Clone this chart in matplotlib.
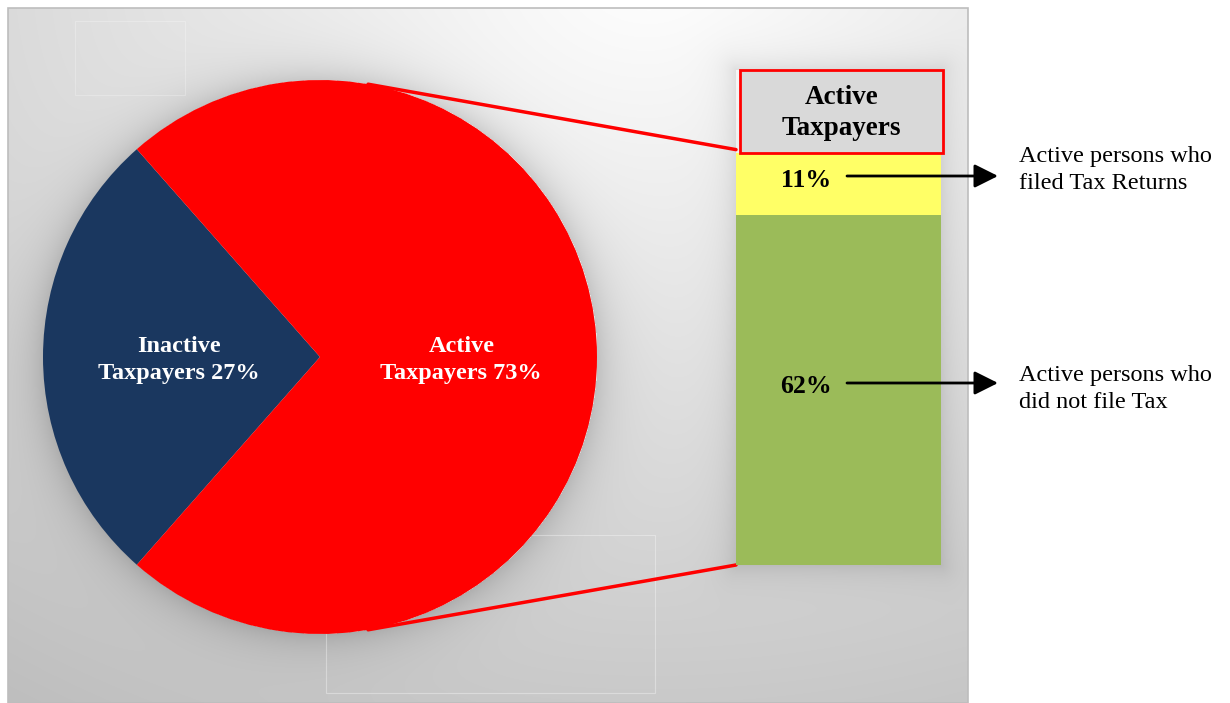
import numpy as np
import matplotlib
matplotlib.use('Agg')
import matplotlib.pyplot as plt
from matplotlib.patches import Rectangle, ConnectionPatch

plt.rcParams['font.family'] = ['Liberation Serif', 'DejaVu Serif']

# ---- data ----
pie_labels = ['Inactive\nTaxpayers', 'Active\nTaxpayers']
pie_values = [27, 73]
pie_colors = ['#1a375f', '#ff0000']

bar_values = [62, 11]                      # stacked bottom -> top
bar_colors = ['#9bbb59', '#ffff66']
bar_notes = ['Active persons who\ndid not file Tax',
             'Active persons who\nfiled Tax Returns']
bar_title = 'Active\nTaxpayers'

W, H = 1230, 703
fig = plt.figure(figsize=(W / 100, H / 100), dpi=100)
fig.patch.set_facecolor('white')

# ---- background panel with soft gradient and shadows ----
bg = fig.add_axes([0, 0, 1, 1], zorder=0)
bg.set_xlim(0, W)
bg.set_ylim(H, 0)
bg.axis('off')

x0, x1, y0, y1 = 8, 968, 8, 703
xx, yy = np.meshgrid(np.arange(x0, x1) + 0.5, np.arange(y0, y1) + 0.5)
d = np.hypot((xx - 650) / 1.3, yy + 30)
v = 1 - 0.26 * np.clip(d / 900, 0, 1.2)

# shadow around the pie
cx, cy, R = 320.5, 357, 277
dp = np.hypot(xx - cx, yy - cy) - R
v -= np.where(dp > 0, 0.13 * np.exp(-np.clip(dp, 0, None) / 20), 0)

# shadow around the stacked column
rx0, rx1, ry0, ry1 = 736, 941, 70, 565
ddx = np.maximum(np.maximum(rx0 - xx, xx - rx1), 0)
ddy = np.maximum(np.maximum(ry0 - yy, yy - ry1), 0)
dr = np.hypot(ddx, ddy)
v -= np.where(dr > 0, 0.09 * np.exp(-dr / 14), 0)

v = np.clip(v, 0, 1)
bg.imshow(np.dstack([v, v, v]), extent=(x0, x1, y1, y0),
          interpolation='bilinear', aspect='auto')
bg.add_patch(Rectangle((x0, y0), x1 - x0, y1 - y0, fill=False,
                       ec='#bdbdbd', lw=1.2))
bg.add_patch(Rectangle((75, 21), 110, 74, fill=False, ec='white',
                       lw=0.8, alpha=0.25))
bg.add_patch(Rectangle((326, 535), 329, 158, fill=False, ec='white',
                       lw=0.8, alpha=0.35))

# ---- pie ----
pax = fig.add_axes([43 / W, (H - 634) / H, 554 / W, 554 / H], zorder=2)
start = 180 - pie_values[0] * 3.6 / 2
wedges, _ = pax.pie(pie_values, colors=pie_colors, startangle=start,
                    counterclock=True, radius=1,
                    wedgeprops=dict(linewidth=0))
pax.set_xlim(-1, 1)
pax.set_ylim(-1, 1)
pax.axis('off')
for w, lab, val in zip(wedges, pie_labels, pie_values):
    ang = np.deg2rad((w.theta1 + w.theta2) / 2)
    pax.text(0.51 * np.cos(ang), 0.51 * np.sin(ang) - 0.01, f'{lab} {val}%',
             ha='center', va='center', color='white', fontsize=17.5,
             fontweight='bold', linespacing=1.4)

# ---- stacked column ----
bax = fig.add_axes([736 / W, (H - 565) / H, 205 / W, (565 - 153) / H], zorder=2)
total = sum(bar_values)
bottom = 0
for val, col in zip(bar_values, bar_colors):
    bax.bar(0, val, bottom=bottom, width=1, color=col, linewidth=0)
    bax.text(-0.16, bottom + val / 2 + 0.6, f'{val}%', ha='center',
             va='center', fontsize=18.5, fontweight='bold', color='black')
    bottom += val
bax.set_xlim(-0.5, 0.5)
bax.set_ylim(0, total)
bax.axis('off')

# connector lines from the pie to the column
ang_c = np.deg2rad(80)
for sgn, yb in ((1, total + 0.6), (-1, 0)):
    con = ConnectionPatch(xyA=(np.cos(ang_c), sgn * np.sin(ang_c)),
                          coordsA=pax.transData,
                          xyB=(-0.5, yb), coordsB=bax.transData,
                          color='#ff0000', lw=2.5, zorder=1)
    fig.add_artist(con)

# ---- overlay: title box, arrows and notes ----
ov = fig.add_axes([0, 0, 1, 1], zorder=3)
ov.set_xlim(0, W)
ov.set_ylim(H, 0)
ov.axis('off')
ov.patch.set_alpha(0)

ov.add_patch(Rectangle((740, 70), 203, 83, fc='#d9d9d9', ec='#ff0000', lw=2))
ov.text(841.5, 113, bar_title, ha='center', va='center', fontsize=19.5,
        fontweight='bold', linespacing=1.35)

arrow_y = [383, 176]
note_y = [389, 170]
for ay, ny, note in zip(arrow_y, note_y, bar_notes):
    ov.annotate('', xy=(998, ay), xytext=(847, ay),
                arrowprops=dict(arrowstyle='-|>,head_length=0.8,head_width=0.4',
                                color='black', lw=2,
                                mutation_scale=18, shrinkA=0, shrinkB=0))
    ov.text(1019, ny, note, ha='left', va='center', fontsize=17.5,
            linespacing=1.4, color='black')

fig.savefig('out.png', dpi=100, facecolor='white')
